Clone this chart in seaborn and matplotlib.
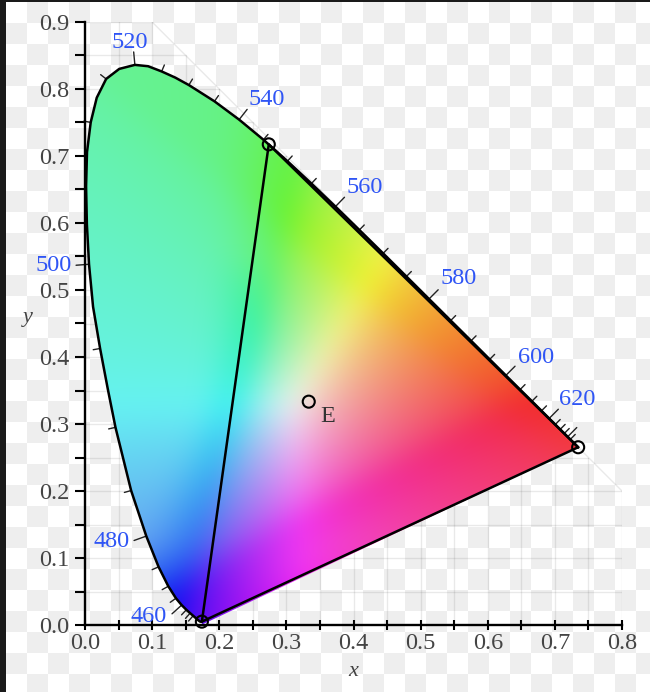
import numpy as np
import pandas as pd
import matplotlib
matplotlib.use("Agg")
import matplotlib.pyplot as plt
from matplotlib.patches import Polygon
import seaborn as sns

# spectral locus, nm and xy
wavelength = [380, 400, 420, 430, 440, 445, 450, 455, 460, 465, 470, 475, 480, 485, 490, 492.5, 495, 497.5,
              500, 502.5, 505, 507.5, 510, 512.5, 515, 517.5, 520, 522.5, 525, 527.5, 530, 535, 540, 545, 550, 555, 560, 565,
              570, 575, 580, 585, 590, 595, 600, 605, 610, 615, 620, 625, 630, 635,
              640, 645, 650, 660, 680, 700]
locus_x = [.1741, .1733, .1714, .1689, .1644, .1611, .1566, .1510, .1440, .1355, .1241, .1096, .0913, .0687, .0454, .0340, .0225, .0120,
           .0060, .0028, .0016, .0030, .0085, .0175, .0315, .0510, .0743, .0940, .1142, .1345, .1547, .1929, .2296, .2658, .3016, .3373, .3731, .4087,
           .4441, .4788, .5125, .5448, .5752, .6029, .6270, .6482, .6658, .6801, .6915, .7006, .7079, .7140,
           .7190, .7230, .7260, .7300, .7334, .7347]
locus_y = [.0050, .0048, .0051, .0069, .0109, .0138, .0177, .0227, .0297, .0399, .0578, .0868, .1327, .2007, .2950, .3520, .4127, .4750,
           .5384, .5980, .6548, .7060, .7502, .7870, .8150, .8300, .8360, .8340, .8262, .8170, .8059, .7816, .7543, .7243, .6923, .6589, .6245, .5896,
           .5547, .5202, .4866, .4544, .4242, .3965, .3725, .3514, .3340, .3197, .3083, .2993, .2920, .2859,
           .2809, .2770, .2740, .2700, .2666, .2653]

# CIE RGB primaries and equal energy point
triangle_x = [.7347, .2738, .1741, .7347]
triangle_y = [.2653, .7174, .0050, .2653]
point_x = [.7347, .2738, .1741, 1 / 3]
point_y = [.2653, .7174, .0050, 1 / 3]

# wavelength labels, with position
label_nm = ["520", "540", "560", "580", "600", "620", "500", "480", "460"]
label_x = [.067, .270, .416, .556, .672, .733, -.046, .039, .095]
label_y = [.869, .785, .653, .517, .399, .337, .537, .125, .012]

x_ticks = [0, .1, .2, .3, .4, .5, .6, .7, .8]
y_ticks = [0, .1, .2, .3, .4, .5, .6, .7, .8, .9]


def box_blur(a, w, axis):
    # running mean along one axis
    pad = [(0, 0)] * a.ndim
    pad[axis] = (w // 2 + 1, w // 2)
    c = np.cumsum(np.pad(a, pad, mode="edge"), axis=axis)
    return (np.take(c, range(w, c.shape[axis]), axis=axis) - np.take(c, range(0, c.shape[axis] - w), axis=axis)) / w


sns.set_style("ticks")
plt.rcParams["font.family"] = ["Liberation Serif", "DejaVu Serif"]

W, H = 650, 692
fig = plt.figure(figsize=(W / 100, H / 100), dpi=100, facecolor="#1a1a1a")

# transparency checkerboard behind everything
bg = fig.add_axes([6 / W, 0, 1 - 6 / W, 1 - 2 / H])
cell = 21
ny, nx = (H - 2) // cell + 1, (W - 6) // cell + 1
checker = np.indices((ny, nx)).sum(axis=0) % 2
bg.imshow(checker, cmap=matplotlib.colors.ListedColormap(["white", "#eeeeee"]), origin="upper",
          extent=(0, nx * cell, ny * cell, 0), interpolation="nearest", aspect="auto")
bg.set_xlim(0, W - 6)
bg.set_ylim(H - 2, 0)
bg.axis("off")

ax = fig.add_axes([85 / W, (H - 625) / H, 537 / W, 603 / H])
ax.patch.set_alpha(0)
ax.set_xlim(0, .8)
ax.set_ylim(0, .9)

# faint grid cut by x + y = 1
for g in np.arange(.05, .81, .05):
    ax.plot([g, g], [0, min(.9, 1 - g)], color="#555555", alpha=.13, lw=1, zorder=1)
for g in np.arange(.05, .91, .05):
    ax.plot([0, min(.8, 1 - g)], [g, g], color="#555555", alpha=.13, lw=1, zorder=1)
ax.plot([.1, .8], [.9, .2], color="#555555", alpha=.13, lw=1, zorder=1)

# chromaticity colours
gx, gy = np.meshgrid(np.linspace(0, .8, 900), np.linspace(0, .9, 1000))
gy = np.maximum(gy, 1e-3)
X, Y, Z = gx / gy, np.ones_like(gx), np.maximum(1 - gx - gy, 0) / gy
r = 3.2406 * X - 1.5372 * Y - .4986 * Z
g = -.9689 * X + 1.8758 * Y + .0415 * Z
b = .0557 * X - .2040 * Y + 1.0570 * Z
rgb = np.stack([r, g, b], axis=-1)
rgb = rgb / rgb.max(axis=-1, keepdims=True)
neg = np.clip(-rgb.min(axis=-1, keepdims=True), 0, None)
rgb = np.clip(rgb, 0, 1) ** (1 / 1.8)
# out of gamut goes paler, the top left more towards mint, the green towards yellow
floor = np.clip(.17 + .42 * np.tanh(neg * 1.6), 0, .42) * np.clip(gy / .12, .25, 1)[..., None]
floor = np.repeat(floor, 3, axis=-1)
floor[..., 2] += .22 * np.tanh(neg[..., 0] * 1.6) * np.clip(gy / .5, 0, 1)
floor[..., 0] = np.maximum(floor[..., 0], .42 * np.clip((gy - .35) / .2, 0, 1))
rgb = (floor + (1 - floor) * rgb) * .95
for axis in (0, 1):
    for _ in range(3):
        rgb = box_blur(rgb, 41, axis)

im = ax.imshow(rgb, origin="lower", extent=(0, .8, 0, .9), aspect="auto", zorder=2, interpolation="bilinear")
clip_xy = np.column_stack([locus_x, locus_y])
clip_xy = np.vstack([clip_xy, [.1741, .0005]])
clip = Polygon(clip_xy, closed=True, transform=ax.transData)
im.set_clip_path(clip)

locus = pd.DataFrame({"x": locus_x, "y": locus_y, "nm": wavelength})
sns.lineplot(data=locus, x="x", y="y", sort=False, estimator=None, color="black", lw=1.8, ax=ax, zorder=4)
tri = pd.DataFrame({"x": triangle_x, "y": triangle_y})
sns.lineplot(data=tri, x="x", y="y", sort=False, estimator=None, color="black", lw=1.8, ax=ax, zorder=4)

# wavelength ticks, normal to the curve
to_px = ax.transData
pts = to_px.transform(np.column_stack([locus_x, locus_y]))
tick_nm = [n for n in wavelength if 445 <= n <= 645 and n % 5 == 0 and n != 505]
for n in tick_nm:
    i = wavelength.index(n)
    d = pts[i + 1] - pts[i - 1]
    d = d / np.hypot(*d)
    nrm = np.array([d[1], -d[0]])
    length = 13 if n % 20 == 0 else 7
    seg = to_px.inverted().transform([pts[i], pts[i] - nrm * length])
    ax.plot(seg[:, 0], seg[:, 1], color="#222222", lw=1, zorder=3, clip_on=False)

points = pd.DataFrame({"x": point_x, "y": point_y})
sns.scatterplot(data=points, x="x", y="y", s=75, facecolor="none", edgecolor="black", linewidth=1.5, ax=ax, zorder=5,
                clip_on=False)

for t, lx, ly in zip(label_nm, label_x, label_y):
    ax.text(lx, ly, t, color="#2f55f5", fontsize=17.5, ha="center", va="center", zorder=6)
ax.text(.362, .311, "E", color="#333333", fontsize=17.5, ha="center", va="center", zorder=6)

ax.set_xticks(x_ticks)
ax.set_yticks(y_ticks)
ax.set_xticklabels([f"{v:.1f}" for v in x_ticks])
ax.set_yticklabels([f"{v:.1f}" for v in y_ticks])
ax.set_xticks(np.arange(.05, .8, .1), minor=True)
ax.set_yticks(np.arange(.05, .9, .1), minor=True)
ax.tick_params(axis="x", which="both", direction="inout", length=7, width=1.5, color="black",
               labelsize=17.5, labelcolor="#444444", pad=2)
ax.tick_params(axis="y", which="both", direction="out", length=7, width=1.5, color="black",
               labelsize=17.5, labelcolor="#444444", pad=4)
ax.set_xlabel("x", fontstyle="italic", fontsize=16, color="#444444", labelpad=6)
ax.set_ylabel("y", fontstyle="italic", fontsize=16, color="#444444", rotation=0, labelpad=0)
ax.yaxis.set_label_coords(-.106, .495)
sns.despine(ax=ax)
for s in ["left", "bottom"]:
    ax.spines[s].set_linewidth(1.7)
    ax.spines[s].set_color("black")
    ax.spines[s].set_zorder(3)

fig.savefig("out.png", dpi=100, facecolor=fig.get_facecolor())
